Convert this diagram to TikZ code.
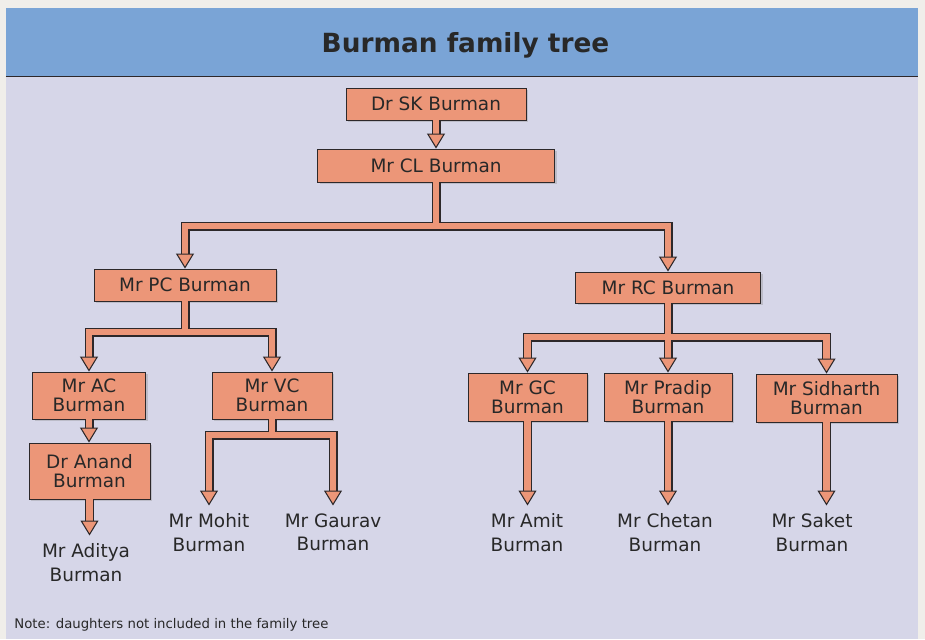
\documentclass[tikz,border=0pt]{standalone}
\usepackage{fontspec}
\setmainfont{DejaVu Sans}
\usetikzlibrary{arrows.meta,shadows}

\definecolor{pagewhite}{RGB}{240,238,234}
\definecolor{panel}{RGB}{214,214,232}
\definecolor{headblue}{RGB}{122,164,214}
\definecolor{boxfill}{RGB}{236,150,120}
\definecolor{linedark}{RGB}{45,40,42}
\definecolor{inkgrey}{RGB}{40,40,40}

\newcommand{\famtitlefont}{\fontsize{15}{18}\selectfont\bfseries}
\newcommand{\famboxfont}{\fontsize{10.5}{11}\selectfont}
\newcommand{\famleaffont}{\fontsize{10.5}{13.6}\selectfont}
\newcommand{\famnotefont}{\fontsize{7.55}{9}\selectfont}

% every link of the tree, drawn twice (dark rim, then salmon core)
\newcommand{\famlinks}{%
    \draw[linkarrow] (SK.south) -- (CL.north);
    \draw[linkstem] (CL.south) -- (j1);
    \draw[linkarrow] (j1) -| (PC.north);
    \draw[linkarrow] (j1) -| (RC.north);
    \draw[linkstem] (PC.south) -- (j2);
    \draw[linkarrow] (j2) -| (AC.north);
    \draw[linkarrow] (j2) -| (VC.north);
    \draw[linkarrow] (AC.south) -- (AC.south |- Anand.north);
    \draw[linkarrow] (Anand.south) -- (Anand.south |- aditya.north);
    \draw[linkstem] (VC.south) -- (j3);
    \draw[linkarrow] (j3) -| (mohit.north);
    \draw[linkarrow] (j3) -| (gaurav.north);
    \draw[linkstem] (RC.south) -- (j4);
    \draw[linkarrow] (j4) -| (GC.north);
    \draw[linkarrow] (j4) -- (Pradip.north);
    \draw[linkarrow] (j4) -| (Sidharth.north);
    \draw[linkarrow] (GC.south) -- (GC.south |- amit.north);
    \draw[linkarrow] (Pradip.south) -- (Pradip.south |- chetan.north);
    \draw[linkarrow] (Sidharth.south) -- (Sidharth.south |- saket.north);
}

\begin{document}
\begin{tikzpicture}[box/.style={draw=linedark, line width=0.5pt, fill=boxfill, inner sep=0pt, align=center, font=\famboxfont, text=inkgrey, drop shadow={shadow xshift=1.3pt, shadow yshift=-1.3pt, opacity=0.3}},
    leaf/.style={inner sep=0.15cm, align=center, font=\famleaffont, text=inkgrey, anchor=north},
    linkback/.style={line join=miter, linkstem/.style={draw=linedark, line width=0.18cm}, linkarrow/.style={draw=linedark, line width=0.18cm, shorten >=0.2cm}},
    linkfront/.style={line join=miter, linkstem/.style={draw=boxfill, line width=0.13cm}, linkarrow/.style={draw=boxfill, line width=0.13cm, -{Triangle[length=0.3cm, width=0.36cm, line width=0.6pt, color=linedark, fill=boxfill]}}}]
    \useasboundingbox (0,0) rectangle (18.5,-12.78);
    \fill[pagewhite] (0,0) rectangle (18.5,-12.78);
    \fill[panel] (0.12,-0.16) rectangle (18.36,-12.78);
    \fill[headblue] (0.12,-0.16) rectangle (18.36,-1.52);
    \draw[linedark, line width=1.1pt] (0.12,-1.53) -- (18.36,-1.53);

    \node[font=\famtitlefont, text=inkgrey, anchor=base] (title) at (9.31,-1.054) {Burman family tree};

    \node[box, minimum width=3.60cm, minimum height=0.64cm] (SK) at (8.72,-2.08) {Dr SK Burman};
    \node[box, minimum width=4.74cm, minimum height=0.66cm] (CL) at (8.72,-3.31) {Mr CL Burman};
    \node[box, minimum width=3.64cm, minimum height=0.64cm] (PC) at (3.70,-5.70) {Mr PC Burman};
    \node[box, minimum width=3.70cm, minimum height=0.62cm] (RC) at (13.36,-5.75) {Mr RC Burman};
    \node[box, minimum width=2.26cm, minimum height=0.94cm] (AC) at (1.78,-7.91) {Mr AC\\Burman};
    \node[box, minimum width=2.40cm, minimum height=0.94cm] (VC) at (5.44,-7.91) {Mr VC\\Burman};
    \node[box, minimum width=2.42cm, minimum height=1.12cm] (Anand) at (1.79,-9.42) {Dr Anand\\Burman};
    \node[box, minimum width=2.38cm, minimum height=0.96cm] (GC) at (10.55,-7.94) {Mr GC\\Burman};
    \node[box, minimum width=2.56cm, minimum height=0.96cm] (Pradip) at (13.36,-7.94) {Mr Pradip\\Burman};
    \node[box, minimum width=2.82cm, minimum height=0.96cm] (Sidharth) at (16.53,-7.96) {Mr Sidharth\\Burman};

    \node[leaf] (aditya) at (1.72,-10.71) {Mr Aditya\\Burman};
    \node[leaf] (mohit) at (4.18,-10.11) {Mr Mohit\\Burman};
    \node[leaf] (gaurav) at (6.66,-10.11) {Mr Gaurav\\Burman};
    \node[leaf] (amit) at (10.54,-10.11) {Mr Amit\\Burman};
    \node[leaf] (chetan) at (13.30,-10.11) {Mr Chetan\\Burman};
    \node[leaf] (saket) at (16.24,-10.11) {Mr Saket\\Burman};

    \coordinate (j1) at (8.72,-4.52);
    \coordinate (j2) at (3.70,-6.64);
    \coordinate (j3) at (5.44,-8.70);
    \coordinate (j4) at (13.36,-6.74);

    \begin{scope}[linkback]
        \famlinks
    \end{scope}
    \begin{scope}[linkfront]
        \famlinks
    \end{scope}

    \node[font=\famnotefont, text=inkgrey, anchor=base west, inner sep=0pt] (note) at (0.28,-12.56) {Note: daughters not included in the family tree};
\end{tikzpicture}
\end{document}
